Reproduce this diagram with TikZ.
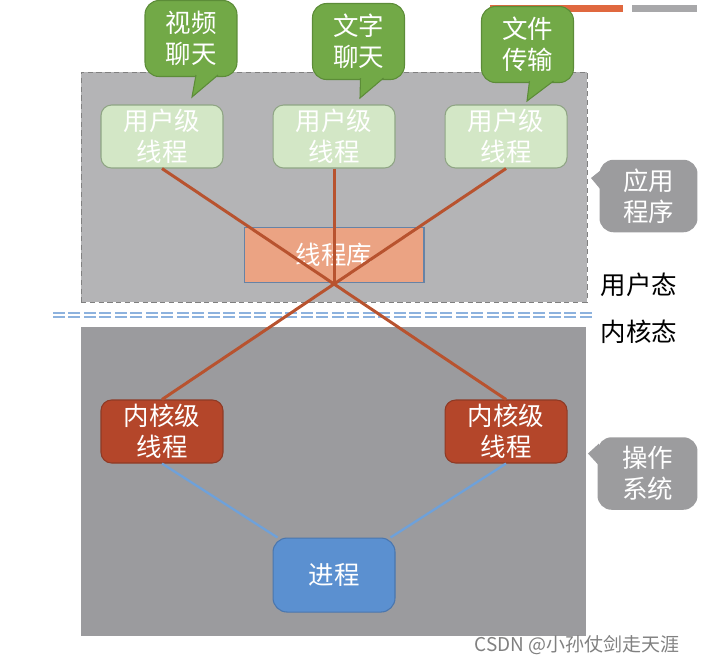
\documentclass[tikz,border=0pt]{standalone}
\usepackage{fontspec}
\setmainfont{Noto Sans CJK SC}
\usepackage{tikz}
\usetikzlibrary{positioning, calc}

\definecolor{userbg}{HTML}{B4B4B6}
\definecolor{kernbg}{HTML}{9B9B9E}
\definecolor{uthread}{HTML}{D3E7C6}
\definecolor{uthreadedge}{HTML}{8FA584}
\definecolor{libfill}{HTML}{EBA383}
\definecolor{libedge}{HTML}{6683A6}
\definecolor{kthread}{HTML}{B4462A}
\definecolor{kthreadedge}{HTML}{8E3A25}
\definecolor{procfill}{HTML}{5B90D0}
\definecolor{procedge}{HTML}{4A76AE}
\definecolor{tieline}{HTML}{B8532F}
\definecolor{maplink}{HTML}{6EA1DA}
\definecolor{sepblue}{HTML}{8DB2DE}
\definecolor{callgreen}{HTML}{72A947}
\definecolor{callgreenedge}{HTML}{5C8C38}
\definecolor{callgray}{HTML}{9C9C9E}
\definecolor{barorange}{HTML}{E0683F}
\definecolor{bargray}{HTML}{A8A8AA}

\begin{document}
\begin{tikzpicture}[
  x=0.02cm, y=-0.02cm,
  thr/.style={rectangle, draw, rounded corners=6pt, minimum width=2.44cm,
    minimum height=1.26cm, align=center, inner sep=0pt, line width=0.6pt,
    font=\fontsize{14.5}{17.6}\selectfont, text=white},
  uthr/.style={thr, fill=uthread, draw=uthreadedge},
  kthr/.style={thr, fill=kthread, draw=kthreadedge},
  libbox/.style={thr, rounded corners=0pt, fill=libfill, draw=libedge,
    minimum width=3.6cm, minimum height=1.1cm},
  procbox/.style={thr, fill=procfill, draw=procedge, rounded corners=8pt,
    minimum height=1.48cm},
  callg/.style={thr, fill=callgreen, draw=callgreenedge, rounded corners=8pt,
    minimum width=1.84cm, minimum height=1.52cm},
  callk/.style={thr, fill=callgray, draw=none, rounded corners=8pt,
    minimum width=1.96cm, minimum height=1.45cm},
  space/.style={rectangle, inner sep=0pt},
  tie/.style={tieline, line width=1.7pt},
  maplk/.style={maplink, line width=1.3pt},
  sep/.style={sepblue, line width=1pt, double=white, double distance=1.4pt,
    dash pattern=on 0.24cm off 0.07cm},
  lbl/.style={font=\fontsize{14.5}{17.6}\selectfont}
]
% Spaces
\node[space, fill=userbg, draw=gray, densely dashed, line width=0.4pt,
  minimum width=10.12cm, minimum height=4.6cm] (ubox) at (334,187) {};
\node[space, fill=kernbg, minimum width=10.1cm, minimum height=6.18cm]
  (kbox) at (333.5,481.5) {};

% Separator
\coordinate (sepL) at (53,315);
\coordinate (sepR) at (592,315);
\draw[sep] (sepL) -- (sepR);

% User level
\node[uthr] (u1) at (162,136.5) {用户级\\线程};
\node[uthr, right=0.98cm of u1] (u2) {用户级\\线程};
\node[uthr, right=0.98cm of u2] (u3) {用户级\\线程};
\node[libbox, below=1.16cm of u2] (lib) {线程库};

% Kernel level
\node[kthr, below=4.62cm of u1] (k1) {内核级\\线程};
\node[kthr, below=4.62cm of u3] (k2) {内核级\\线程};
\node[procbox, below=5.1cm of lib] (jc) {进程};

% Mapping
\draw[tie] (u1.south) -- (k2.north);
\draw[tie] (u3.south) -- (k1.north);
\draw[tie] (u2.south) -- (lib.south);
\draw[maplk] (k1.south) -- ([xshift=0.1cm]jc.north west);
\draw[maplk] (k2.south) -- ([xshift=-0.1cm]jc.north east);

% Slide bars
\fill[barorange] (490,5) rectangle (623,12);
\fill[bargray] (632,5) rectangle (697,12);

% Apps
\node[callg] (c1) at (191,38.5) {视频\\聊天};
\node[callg] (c2) at (358.5,41.5) {文字\\聊天};
\node[callg] (c3) at (527.5,44.5) {文件\\传输};
\filldraw[callgreen, draw=callgreenedge, line width=0.6pt]
  ($(c1.south)+(5,-2)$) -- ($(c1.south)+(1,20)$) -- ($(c1.south)+(27,-2)$);
\filldraw[callgreen, draw=callgreenedge, line width=0.6pt]
  ($(c2.south)+(2,-2)$) -- ($(c2.south)+(1.5,18)$) -- ($(c2.south)+(25,-2)$);
\filldraw[callgreen, draw=callgreenedge, line width=0.6pt]
  ($(c3.south)+(2,-2)$) -- ($(c3.south)+(-0.5,18)$) -- ($(c3.south)+(26,-2)$);

% Side notes
\node[callk] (app) at (648.5,196) {应用\\程序};
\node[callk, minimum width=2cm] (os) at (647.5,473.5) {操作\\系统};
\fill[callgray] ($(app.west)+(2,-26)$) -- ($(app.west)+(-8,-18)$)
  -- ($(app.west)+(2,-6)$) -- cycle;
\fill[callgray] ($(os.west)+(2,-30)$) -- ($(os.west)+(-9,-20)$)
  -- ($(os.west)+(2,-8)$) -- cycle;
\node[lbl] (ut) at (639,285) {用户态};
\node[lbl] (kt) at (639,332) {内核态};

% Watermark
\node[font=\fontsize{10.8}{12}\selectfont, text=gray] (wm) at (577,645)
  {CSDN @小孙仗剑走天涯};

\useasboundingbox (0,0) rectangle (703,665);
\end{tikzpicture}
\end{document}
